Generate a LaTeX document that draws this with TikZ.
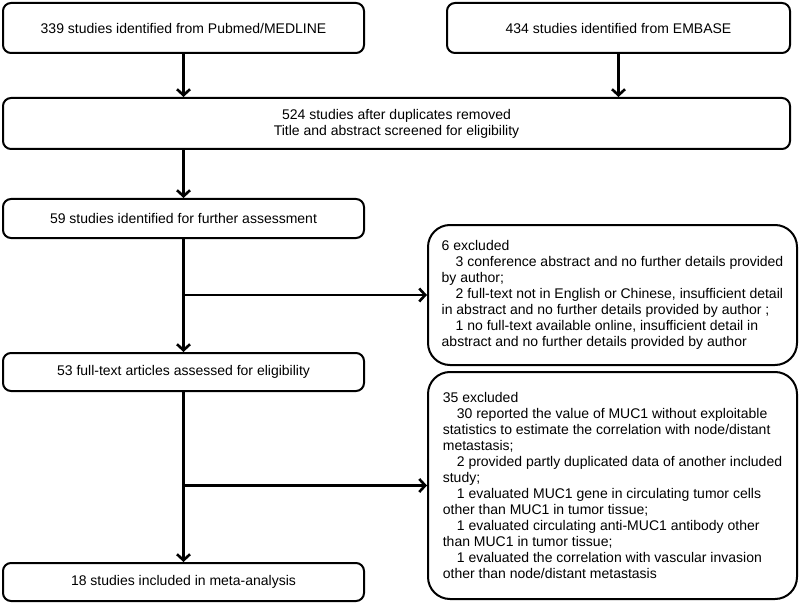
\documentclass[tikz,border=0pt]{standalone}
\usepackage{fontspec}
\setmainfont{Liberation Sans}
\usetikzlibrary{arrows.meta}

\begin{document}
\begin{tikzpicture}[x=1pt, y=-1pt,
        box/.style={draw, line width=2pt, rounded corners=8pt, font=\fontsize{14}{16}\selectfont},
        outbox/.style={draw, line width=2pt, rounded corners=22pt, align=left, font=\fontsize{14}{16}\selectfont},
        flow/.style={line width=2.6pt, -{Straight Barb[length=6pt, width=13pt, line width=2.6pt]}}]
        \useasboundingbox (0, 0) rectangle (800, 604);
        \node[box, minimum width=361pt, minimum height=50pt] (pubmed) at (183.5, 28) {339 studies identified from Pubmed/MEDLINE};
        \node[box, minimum width=343pt, minimum height=50pt] (embase) at (618.5, 28) {434 studies identified from EMBASE};
        \node[box, minimum width=787pt, minimum height=51pt, align=center] (screen) at (396.5, 123.5) {524 studies after duplicates removed\\Title and abstract screened for eligibility};
        \node[box, minimum width=361pt, minimum height=39pt] (further) at (183.5, 218.5) {59 studies identified for further assessment};
        \node[box, minimum width=361pt, minimum height=38pt] (fulltext) at (183.5, 372) {53 full-text articles assessed for eligibility};
        \node[box, minimum width=361pt, minimum height=38pt] (included) at (183.5, 582) {18 studies included in meta-analysis};
        \node[outbox, minimum width=369pt, minimum height=140pt] (excl6) at (612.5, 295) {6 excluded\\
            \hspace*{1em}3 conference abstract and no further details provided\\
            by author;\\
            \hspace*{1em}2 full-text not in English or Chinese, insufficient detail\\
            in abstract and no further details provided by author ;\\
            \hspace*{1em}1 no full-text available online, insufficient detail in\\
            abstract and no further details provided by author};
        \node[outbox, minimum width=369pt, minimum height=227pt] (excl35) at (612.5, 485.5) {35 excluded\\
            \hspace*{1em}30 reported the value of MUC1 without exploitable\\
            statistics to estimate the correlation with node/distant\\
            metastasis;\\
            \hspace*{1em}2 provided partly duplicated data of another included\\
            study;\\
            \hspace*{1em}1 evaluated MUC1 gene in circulating tumor cells\\
            other than MUC1 in tumor tissue;\\
            \hspace*{1em}1 evaluated circulating anti-MUC1 antibody other\\
            than MUC1 in tumor tissue;\\
            \hspace*{1em}1 evaluated the correlation with vascular invasion\\
            other than node/distant metastasis};
        
        \coordinate (split1) at (further.south |- excl6.west);
        \coordinate (split2) at (further.south |- excl35.west);
        \draw[flow] (pubmed.south) -- (pubmed.south |- screen.north);
        \draw[flow] (embase.south) -- (embase.south |- screen.north);
        \draw[flow] (further.north |- screen.south) -- (further.north);
        \draw[flow] (further.south) -- (fulltext.north);
        \draw[flow] (fulltext.south) -- (included.north);
        \draw[flow] (split1) -- (excl6.west);
        \draw[flow] (split2) -- (excl35.west);
    \end{tikzpicture}
\end{document}
